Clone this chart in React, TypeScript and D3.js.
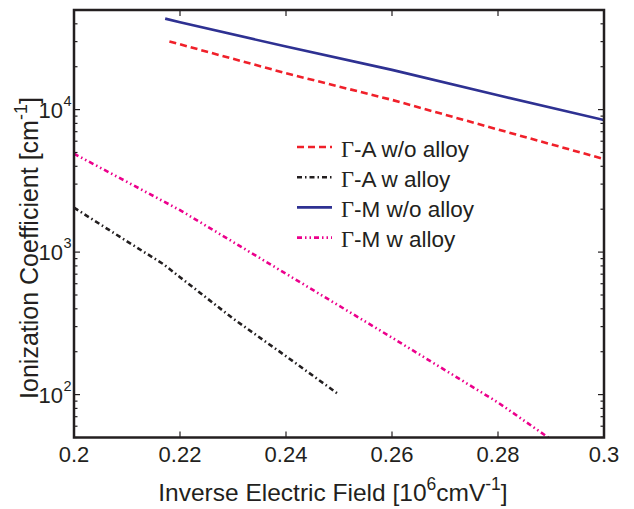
import React from "react";
import * as d3 from "d3";

// values
const xTicks = [0.2, 0.22, 0.24, 0.26, 0.28, 0.3];
const yMajor = [100, 1000, 10000];

const gaWoX = [0.218, 0.22, 0.24, 0.26, 0.28, 0.3];
const gaWoY = [30000, 28700, 18000, 11700, 7250, 4500];

const gaWX = [0.2, 0.21, 0.2168, 0.22, 0.23, 0.24, 0.25];
const gaWY = [2050, 1190, 826, 667, 342, 186, 100];

const gmWoX = [0.2172, 0.22, 0.24, 0.26, 0.28, 0.3];
const gmWoY = [43500, 41000, 27700, 19000, 12600, 8450];

const gmWX = [0.2, 0.21, 0.22, 0.24, 0.26, 0.28, 0.2895];
const gmWY = [4900, 3110, 1970, 705, 251, 88, 50];

const seriesNames = ["-A w/o alloy", "-A w alloy", "-M w/o alloy", "-M w alloy"];
const seriesColors = ["#f0202a", "#231f20", "#2e3192", "#ec008c"];
const seriesDash = ["7,4", "5,3,1.5,3", "", "5,3,1.5,3,1.5,3"];

const W = 634;
const H = 509;
const margin = { left: 74, right: 30, top: 10, bottom: 71.5 };
const ink = "#231f20";
const font = "'Liberation Sans', Arial, sans-serif";

export default function App() {
  const x = d3.scaleLinear().domain([0.2, 0.3]).range([margin.left, W - margin.right]);
  const y = d3.scaleLog().domain([50, 50000]).range([H - margin.bottom, margin.top]);

  const series = [
    gaWoX.map((v, i) => [v, gaWoY[i]]),
    gaWX.map((v, i) => [v, gaWY[i]]),
    gmWoX.map((v, i) => [v, gmWoY[i]]),
    gmWX.map((v, i) => [v, gmWY[i]]),
  ];

  const line = d3
    .line<number[]>()
    .x((d) => x(d[0]))
    .y((d) => y(d[1]));

  const x0 = margin.left;
  const x1 = W - margin.right;
  const y0 = H - margin.bottom;
  const y1 = margin.top;

  const minor = y.ticks().filter((t) => !yMajor.includes(t));

  return (
    <svg
      width={W}
      height={H}
      style={{ position: "absolute", left: 0, top: 0, background: "#fff" }}
      fontFamily={font}
    >
      <defs>
        <clipPath id="plot">
          <rect x={x0} y={y1} width={x1 - x0} height={y0 - y1} />
        </clipPath>
      </defs>

      {/* lines */}
      <g clipPath="url(#plot)">
        {series.map((s, i) => (
          <path
            key={i}
            d={line(s) || ""}
            fill="none"
            stroke={seriesColors[i]}
            strokeWidth={2.6}
            strokeDasharray={seriesDash[i]}
          />
        ))}
      </g>

      {/* ticks */}
      <g stroke={ink} strokeWidth={1.2}>
        {xTicks.slice(1, -1).map((t) => (
          <g key={t}>
            <line x1={x(t)} x2={x(t)} y1={y0} y2={y0 - 6} />
            <line x1={x(t)} x2={x(t)} y1={y1} y2={y1 + 6} />
          </g>
        ))}
        {yMajor.map((t) => (
          <g key={t}>
            <line x1={x0} x2={x0 + 6} y1={y(t)} y2={y(t)} />
            <line x1={x1} x2={x1 - 6} y1={y(t)} y2={y(t)} />
          </g>
        ))}
        {minor.map((t) => (
          <g key={t}>
            <line x1={x0} x2={x0 + 3.5} y1={y(t)} y2={y(t)} />
            <line x1={x1} x2={x1 - 3.5} y1={y(t)} y2={y(t)} />
          </g>
        ))}
      </g>

      {/* box */}
      <rect x={x0} y={y1} width={x1 - x0} height={y0 - y1} fill="none" stroke={ink} strokeWidth={2.5} />

      {/* x tick labels */}
      <g fill={ink} fontSize={22} textAnchor="middle">
        {xTicks.map((t) => (
          <text key={t} x={x(t)} y={y0 + 24.5}>
            {d3.format("")(t)}
          </text>
        ))}
      </g>

      {/* y tick labels */}
      <g fill={ink} fontSize={22}>
        {yMajor.map((t) => (
          <g key={t}>
            <text x={x0 - 11} y={y(t) + 8} textAnchor="end">
              10
            </text>
            <text x={x0 - 10.5} y={y(t) - 4} fontSize={14.5}>
              {Math.round(Math.log10(t))}
            </text>
          </g>
        ))}
      </g>

      {/* axis titles */}
      <text x={333} y={500.5} textAnchor="middle" fontSize={24.5} fill={ink}>
        Inverse Electric Field [10
        <tspan dy={-11} fontSize={17.5}>6</tspan>
        <tspan dy={11}>cmV</tspan>
        <tspan dy={-11} fontSize={17.5}>-1</tspan>
        <tspan dy={11}>]</tspan>
      </text>
      <text
        transform={`translate(38,248) rotate(-90)`}
        textAnchor="middle"
        fontSize={25}
        fill={ink}
      >
        Ionization Coefficient [cm
        <tspan dy={-11} fontSize={18}>-1</tspan>
        <tspan dy={11}>]</tspan>
      </text>

      {/* legend */}
      <g>
        {seriesNames.map((n, i) => {
          const ly = 147 + i * 30.2;
          return (
            <g key={n}>
              <line
                x1={297}
                x2={332}
                y1={ly}
                y2={ly}
                stroke={seriesColors[i]}
                strokeWidth={2.6}
                strokeDasharray={seriesDash[i]}
              />
              <text x={341} y={ly + 9.5} fontSize={22.5} fill={ink}>
                <tspan fontFamily="'Liberation Serif', 'Times New Roman', serif">Γ</tspan>
                {n}
              </text>
            </g>
          );
        })}
      </g>
    </svg>
  );
}
